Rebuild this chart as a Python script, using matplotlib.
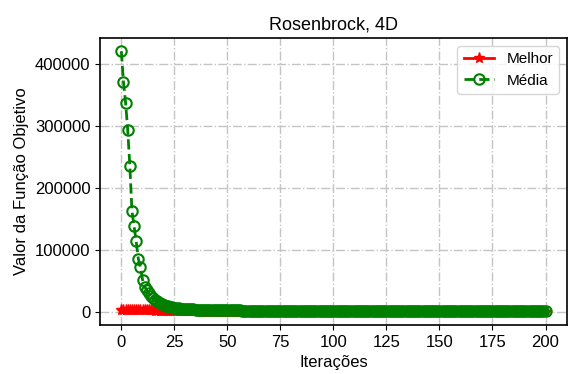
import matplotlib

matplotlib.use("Agg")
import matplotlib.pyplot as plt
import numpy as np

matplotlib.rcParams.update(
    {
        "font.family": ["Liberation Sans", "DejaVu Sans"],
        "font.size": 11,
        "axes.titlesize": 13,
        "axes.labelsize": 12,
        "xtick.labelsize": 12,
        "ytick.labelsize": 12,
        "legend.fontsize": 11,
        "axes.linewidth": 1.2,
    }
)

TITLE = "Rosenbrock, 4D"
X_LABEL = "Iterações"
Y_LABEL = "Valor da Função Objetivo"
SERIES_NAMES = ["Melhor", "Média"]

iterations = list(range(201))

# best objective value found at each iteration
best_values = [
    3800, 3700, 3650, 3600, 3500, 3400, 3350, 3300, 3200, 3100,
    3000, 2900, 2800, 2700, 2600, 2500, 2400, 2300, 2200, 2100,
    2000, 1900, 1800, 1700, 1600, 1500, 1400, 1300, 1250, 1200,
    1150, 1100, 1050, 1000, 960, 920, 880, 850, 820, 790,
    760, 730, 705, 680, 655, 630, 610, 590, 570, 550,
    535, 520, 505, 490, 475, 460, 450, 440, 430, 420,
    410, 400, 392, 384, 376, 368, 360, 353, 346, 339,
    332, 325, 318, 312, 306, 300, 294, 288, 283, 278,
    273, 268, 263, 258, 254, 250, 246, 242, 238, 234,
    230, 226, 222, 219, 216, 213, 210, 207, 204, 201,
    198, 195, 192, 190, 188, 186, 184, 182, 180, 178,
    176, 174, 172, 170, 168, 166, 164, 162, 160, 158,
    157, 156, 155, 154, 153, 152, 151, 150, 149, 148,
    147, 146, 145, 144, 143, 142, 141, 140, 139, 138,
    137, 136, 135, 134, 133, 132, 131, 130, 129, 128,
    127, 126, 125, 124, 123, 122, 121, 120, 119, 118,
    117, 116, 115, 114, 113, 112, 111, 110, 109, 108,
    107, 106, 105, 104, 103, 102, 101, 100, 99, 98,
    97, 96, 95, 94, 93, 92, 91, 90, 89, 88,
    87, 86, 85, 84, 83, 82, 81, 80, 79, 78,
    77,
]

# population mean objective value at each iteration
mean_values = [
    421000, 371000, 338000, 294000, 236000, 163000, 139000, 114000, 86000, 72000,
    52000, 41000, 35000, 30000, 26000, 22500, 19500, 17000, 15000, 13000,
    11500, 10200, 9100, 8200, 7400, 6800, 6300, 5900, 5500, 5200,
    4900, 4650, 4450, 4250, 4100, 3950, 3800, 3680, 3560, 3450,
    3350, 3260, 3180, 3100, 3030, 2960, 2900, 2840, 2790, 2740,
    2690, 2650, 2600, 2560, 2520, 2480, 2450, 2410, 2380, 2350,
    2320, 2290, 2260, 2240, 2210, 2190, 2160, 2140, 2120, 2100,
    2080, 2060, 2040, 2020, 2000, 1985, 1970, 1950, 1935, 1920,
    1905, 1890, 1875, 1860, 1850, 1835, 1820, 1810, 1795, 1785,
    1770, 1760, 1750, 1740, 1725, 1715, 1705, 1695, 1685, 1675,
    1665, 1655, 1645, 1640, 1630, 1620, 1610, 1600, 1595, 1585,
    1575, 1570, 1560, 1550, 1545, 1535, 1530, 1520, 1515, 1505,
    1500, 1490, 1485, 1480, 1470, 1465, 1460, 1450, 1445, 1440,
    1430, 1425, 1420, 1415, 1405, 1400, 1395, 1390, 1385, 1380,
    1375, 1370, 1365, 1360, 1350, 1345, 1340, 1335, 1330, 1325,
    1320, 1315, 1310, 1305, 1300, 1295, 1290, 1285, 1280, 1275,
    1270, 1265, 1260, 1255, 1250, 1245, 1240, 1235, 1230, 1225,
    1220, 1215, 1210, 1205, 1200, 1195, 1190, 1185, 1180, 1175,
    1170, 1165, 1160, 1155, 1150, 1145, 1140, 1135, 1130, 1125,
    1120, 1115, 1110, 1105, 1100, 1100, 1095, 1090, 1085, 1080,
    1075,
]


def main() -> None:
    fig = plt.figure(figsize=(5.69, 3.74), dpi=100)
    ax = fig.add_axes([0.176, 0.131, 0.82, 0.767])

    ax.plot(
        iterations, best_values, color="red", linestyle="-", marker="*",
        markersize=8, linewidth=2.0, label=SERIES_NAMES[0],
    )
    ax.plot(
        iterations, mean_values, color="green", linestyle="--", marker="o",
        markersize=7.5, markerfacecolor="none", markeredgewidth=1.5,
        linewidth=2.0, label=SERIES_NAMES[1],
    )

    ax.set_title(TITLE)
    ax.set_xlabel(X_LABEL)
    ax.set_ylabel(Y_LABEL)
    ax.set_xticks(np.arange(0, 201, 25))
    ax.grid(True, linestyle="-.", color="#c4c4c4", linewidth=1.0)
    ax.legend(loc="upper right")

    fig.savefig("out.png", dpi=100)
    plt.close(fig)


if __name__ == "__main__":
    main()
